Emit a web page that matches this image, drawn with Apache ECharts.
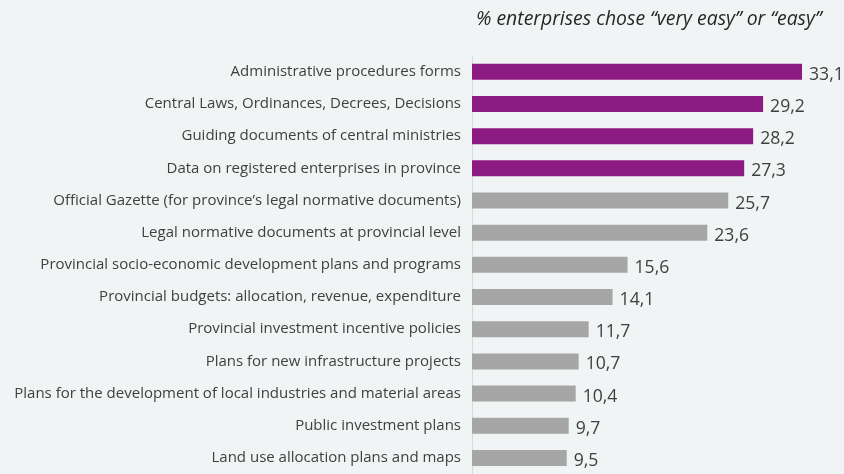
<!DOCTYPE html>
<html>
<head>
<meta charset="utf-8">
<script src="https://cdn.jsdelivr.net/npm/echarts@6/dist/echarts.min.js"></script>
<style>
  html, body { margin: 0; padding: 0; background: #f1f4f4; }
  #chart { width: 844px; height: 474px; }
</style>
</head>
<body>
<div id="chart"></div>
<script>
// Share of enterprises rating access to each information type as "very easy" or "easy"
const categories = [
  'Administrative procedures forms',
  'Central Laws, Ordinances, Decrees, Decisions',
  'Guiding documents of central ministries',
  'Data on registered enterprises in province',
  'Official Gazette (for province\u2019s legal normative documents)',
  'Legal normative documents at provincial level',
  'Provincial socio-economic development plans and programs',
  'Provincial budgets: allocation, revenue, expenditure',
  'Provincial investment incentive policies',
  'Plans for new infrastructure projects',
  'Plans for the development of local industries and material areas',
  'Public investment plans',
  'Land use allocation plans and maps'
];
const values = [33.1, 29.2, 28.2, 27.3, 25.7, 23.6, 15.6, 14.1, 11.7, 10.7, 10.4, 9.7, 9.5];
// The first four items are highlighted
const highlightCount = 4;
const titleText = '% enterprises chose \u201cvery easy\u201d or \u201ceasy\u201d';

const PURPLE = '#8c1a83';
const GREY = '#a6a6a6';

const chart = echarts.init(document.getElementById('chart'), null, { renderer: 'canvas' });
chart.setOption({
  backgroundColor: '#f1f4f4',
  animation: false,
  title: {
    text: titleText,
    left: 476,
    top: 10,
    padding: 0,
    textStyle: {
      fontFamily: 'Open Sans',
      fontStyle: 'italic',
      fontWeight: 'normal',
      fontSize: 19.4,
      color: '#262626'
    }
  },
  grid: { left: 472, top: 55.7, width: 332, height: 424.3, containLabel: false },
  xAxis: {
    type: 'value',
    min: 0,
    max: 33.3,
    show: false
  },
  yAxis: {
    type: 'category',
    inverse: true,
    data: categories,
    axisLine: { show: true, lineStyle: { color: '#d9d9d9', width: 1 } },
    axisTick: { show: false },
    axisLabel: {
      margin: 11,
      fontFamily: 'Open Sans',
      fontSize: 15,
      color: '#404040'
    }
  },
  series: [{
    type: 'bar',
    barWidth: 16,
    data: values.map((v, i) => ({
      value: v,
      itemStyle: { color: i < highlightCount ? PURPLE : GREY }
    })),
    label: {
      show: true,
      position: 'right',
      distance: 7,
      offset: [0, 3],
      fontFamily: 'Open Sans',
      fontSize: 17.6,
      color: '#404040',
      formatter: p => String(p.value).replace('.', ',')
    }
  }]
});
</script>
</body>
</html>
